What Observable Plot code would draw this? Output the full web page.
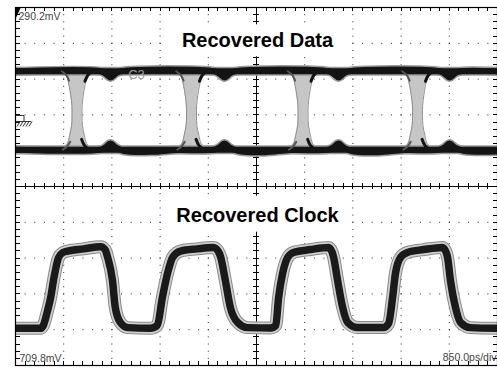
<!DOCTYPE html>
<html><head><meta charset="utf-8">
<script src="https://cdn.jsdelivr.net/npm/d3@7"></script>
<script src="https://cdn.jsdelivr.net/npm/@observablehq/plot@0.6"></script>
<style>
html,body{margin:0;padding:0;background:#fff;}
svg{display:block}
</style>
</head><body>
<div id="chart"></div>
<script>
// ---- scope settings ----
const timeDomain = [0, 8.5];          // ns (850 ps/div x 10 div)
const voltDomain = [-709.8, 290.2];   // mV (100 mV/div)
const topLabel = "290.2mV";
const bottomLabel = "709.8mV";
const timebaseLabel = "850.0ps/div";
const dataTitle = "Recovered Data";
const clockTitle = "Recovered Clock";
const channelLabel = "C3";
const groundLevel = -11;              // mV

// ---- Recovered Data eye ----
const eyeCrossings = [1.085, 3.104, 5.071, 7.09];   // ns
const eyeEnvV    = [114, 100, 72, 44, 16, -12, -39, -67, -90, -104];
const eyeEnvHalf = [0.28, 0.19, 0.14, 0.11, 0.09, 0.088, 0.095, 0.13, 0.17, 0.26];
const dataHigh = 112, dataLow = -107;               // mV
const dataHighT = [0, 1.50, 1.58, 1.675, 1.77, 1.86, 3.51, 3.59, 3.686, 3.78, 3.87, 5.52, 5.60, 5.696, 5.79, 5.88, 7.48, 7.56, 7.654, 7.75, 7.84, 8.5];
const dataHighV = [112, 112, 106, 95, 106, 112, 112, 106, 95, 106, 112, 112, 106, 95, 106, 112, 112, 106, 95, 106, 112, 112];
const dataLowT = [0, 1.50, 1.58, 1.675, 1.77, 1.90, 2.40, 2.85, 3.51, 3.59, 3.686, 3.78, 3.92, 4.40, 4.85, 5.52, 5.60, 5.696, 5.79, 5.93, 6.40, 6.85, 7.48, 7.56, 7.654, 7.75, 7.90, 8.5];
const dataLowV = [-107, -107, -101, -90, -101, -110, -113, -108, -107, -101, -90, -101, -110, -114, -108, -107, -101, -90, -101, -111, -114, -108, -107, -101, -90, -101, -110, -112];
// transition shoulders relative to each crossing
const shoulderTLdt = [-0.27, -0.19, -0.14], shoulderTLv = [112, 101, 86];
const shoulderTRdt = [0.27, 0.19, 0.14],    shoulderTRv = [112, 101, 84];
const shoulderBLdt = [-0.25, -0.17, -0.12], shoulderBLv = [-107, -97, -85];
const shoulderBRdt = [0.22, 0.13, 0.08],    shoulderBRv = [-107, -95, -78];

// ---- Recovered Clock ----
const clockT = [0, 0.44, 0.49, 0.56, 0.62, 0.67, 0.76, 0.84, 0.92, 1.20, 1.50, 1.58, 1.62, 1.71, 1.76, 1.85, 1.98,
  2.38, 2.50, 2.59, 2.68, 2.77, 2.91, 3.20, 3.49, 3.58, 3.62, 3.70, 3.79, 3.92, 4.09,
  4.50, 4.59, 4.64, 4.71, 4.80, 4.90, 5.20, 5.52, 5.58, 5.61, 5.68, 5.77, 5.86, 6.03,
  6.49, 6.58, 6.65, 6.70, 6.79, 6.91, 7.20, 7.53, 7.59, 7.62, 7.67, 7.76, 7.85, 8.02, 8.5];
const clockV = [-606, -606, -598, -560, -520, -472, -408, -394, -390, -384, -378, -386, -405, -472, -548, -590, -604,
  -606, -598, -520, -453, -408, -390, -384, -380, -392, -408, -472, -548, -590, -604,
  -605, -598, -520, -453, -408, -394, -386, -380, -392, -408, -472, -548, -590, -604,
  -604, -592, -520, -453, -408, -394, -386, -380, -392, -408, -472, -548, -590, -604, -606];

// ---- derived tables ----
const clockData = clockT.map((t, i) => ({t, v: clockV[i]}));
const highData = dataHighT.map((t, i) => ({t, v: dataHighV[i]}));
const lowData = dataLowT.map((t, i) => ({t, v: dataLowV[i]}));
const eyeTable = eyeCrossings.flatMap(c => eyeEnvV.map((v, i) => ({c, v, x1: c - eyeEnvHalf[i], x2: c + eyeEnvHalf[i]})));
function shoulders(dts, vs, key) {
  return eyeCrossings.flatMap(c => dts.map((d, i) => ({g: key + c, t: c + d, v: vs[i]})));
}
const shoulderBlack = [...shoulders(shoulderTRdt, shoulderTRv, "tr"), ...shoulders(shoulderBRdt, shoulderBRv, "br")];
const shoulderDark = [...shoulders(shoulderTLdt, shoulderTLv, "tl"), ...shoulders(shoulderBLdt, shoulderBLv, "bl")];

const majorT = d3.range(1, 10).map(i => timeDomain[0] + i * (timeDomain[1] - timeDomain[0]) / 10);
const majorV = d3.range(1, 10).map(i => voltDomain[0] + i * (voltDomain[1] - voltDomain[0]) / 10);
const centerT = (timeDomain[0] + timeDomain[1]) / 2;
const centerV = (voltDomain[0] + voltDomain[1]) / 2;
const minorT = d3.range(0, 51).map(i => timeDomain[0] + i * (timeDomain[1] - timeDomain[0]) / 50);
const minorV = d3.range(0, 51).map(i => voltDomain[0] + i * (voltDomain[1] - voltDomain[0]) / 50);

const font = "'Liberation Sans', Arial, Helvetica, sans-serif";

function scopeTicks(index, {x, y}) {
  const g = d3.create("svg:g").attr("stroke", "#000").attr("stroke-width", 1).attr("fill", "none");
  const xl = x(timeDomain[0]), xr = x(timeDomain[1]), yt = y(voltDomain[1]), yb = y(voltDomain[0]);
  const xc = x(centerT), yc = y(centerV);
  let d = "";
  for (const t of minorT) {
    const px = Math.round(x(t)) + 0.5;
    d += `M${px},${yt}v4M${px},${yb}v-4M${px},${yc - 3}v6`;
  }
  for (const v of minorV) {
    const py = Math.round(y(v)) + 0.5;
    d += `M${xl},${py}h5M${xr},${py}h-4M${xc - 3},${py}h6`;
  }
  g.append("path").attr("d", d);
  return g.node();
}

function titleBox(text, t, v, w, hTop, hBot) {
  return (index, {x, y}) => {
    const g = d3.create("svg:g");
    const cx = x(t), by = y(v);
    g.append("rect").attr("x", cx - w / 2).attr("y", by - hTop).attr("width", w).attr("height", hTop + hBot).attr("fill", "#fff");
    g.append("text").attr("x", cx + 1.5).attr("y", by).attr("text-anchor", "middle")
      .attr("font-family", font).attr("font-weight", "bold").attr("font-size", 20).attr("fill", "#000").text(text);
    return g.node();
  };
}

function groundMark(index, {x, y}) {
  const g = d3.create("svg:g").attr("stroke", "#333").attr("stroke-width", 1).attr("fill", "none");
  const px = x(timeDomain[0]), py = Math.round(y(groundLevel)) + 0.5;
  let d = `M${px},${py}H${px + 9}V${py + 6}M${px + 1},${py + 6}H${px + 16}`;
  for (let k = 0; k < 5; k++) d += `M${px + 2 + 3 * k},${py + 11}L${px + 5 + 3 * k},${py + 6}`;
  g.append("path").attr("d", d);
  return g.node();
}

function cornerMark(index, {x, y}) {
  const px = x(timeDomain[0]), py = y(voltDomain[1]);
  const g = d3.create("svg:g");
  g.append("path").attr("d", `M${px},${py}h6l-6,13z`).attr("fill", "#000");
  return g.node();
}

const crv = "monotone-x";
const chart = Plot.plot({
  width: 497, height: 369,
  marginLeft: 15, marginRight: 0, marginTop: 7, marginBottom: 4,
  x: {domain: timeDomain, axis: null},
  y: {domain: voltDomain, axis: null},
  style: {background: "#fff", fontFamily: font},
  marks: [
    // dotted graticule
    Plot.ruleX(majorT.filter((_, i) => i !== 4), {stroke: "#222", strokeWidth: 1, strokeDasharray: "1 6.16"}),
    Plot.ruleY(majorV.filter((_, i) => i !== 4), {stroke: "#222", strokeWidth: 1, strokeDasharray: "1 8.64"}),
    Plot.ruleX([centerT], {stroke: "#000", strokeWidth: 1}),
    Plot.ruleY([centerV], {stroke: "#000", strokeWidth: 1}),
    scopeTicks,
    titleBox(dataTitle, centerT, 177.6, 182, 23, 9),
    titleBox(clockTitle, centerT, -309.5, 182, 26, 10),
    // data eye transitions
    Plot.areaX(eyeTable, {y: "v", x1: "x1", x2: "x2", z: "c", fill: "#c6c6c6", curve: "catmull-rom"}),
    Plot.line(eyeTable, {x: "x1", y: "v", z: "c", stroke: "#8f8f8f", strokeWidth: 1, curve: "catmull-rom"}),
    Plot.line(eyeTable, {x: "x2", y: "v", z: "c", stroke: "#8f8f8f", strokeWidth: 1, curve: "catmull-rom"}),
    // data levels
    Plot.line(highData, {x: "t", y: "v", stroke: "#9a9a9a", strokeWidth: 9, curve: "catmull-rom", clip: true}),
    Plot.line(lowData, {x: "t", y: "v", stroke: "#9a9a9a", strokeWidth: 9, curve: "catmull-rom", clip: true}),
    Plot.ruleY([dataHigh, dataLow], {stroke: "#9a9a9a", strokeWidth: 9}),
    Plot.ruleY([dataHigh, dataLow], {stroke: "#141414", strokeWidth: 6}),
    Plot.line(highData, {x: "t", y: "v", stroke: "#141414", strokeWidth: 6, curve: "catmull-rom", clip: true}),
    Plot.line(lowData, {x: "t", y: "v", stroke: "#141414", strokeWidth: 6, curve: "catmull-rom", clip: true}),
    Plot.line(shoulderDark, {x: "t", y: "v", z: "g", stroke: "#555", strokeWidth: 2, curve: "catmull-rom"}),
    Plot.line(shoulderBlack, {x: "t", y: "v", z: "g", stroke: "#141414", strokeWidth: 3, curve: "catmull-rom"}),
    // clock
    Plot.line(clockData, {x: "t", y: "v", stroke: "#8a8a8a", strokeWidth: 13, curve: crv, clip: true}),
    Plot.line(clockData, {x: "t", y: "v", stroke: "#cfcfcf", strokeWidth: 11, curve: crv, clip: true}),
    Plot.line(clockData, {x: "t", y: "v", stroke: "#1a1a1a", strokeWidth: 7.5, curve: crv, clip: true}),
    // labels
    Plot.text([channelLabel], {x: [2.134], y: [103], fill: "#a0a0a0", fontSize: 13, textAnchor: "middle"}),
    Plot.text([topLabel], {frameAnchor: "top-left", dx: 3, dy: 5.5, textAnchor: "start", lineAnchor: "top", fontSize: 10.5, fill: "#444"}),
    Plot.text([bottomLabel], {frameAnchor: "bottom-left", dx: 4, dy: -4, textAnchor: "start", lineAnchor: "bottom", fontSize: 10.5, fill: "#444"}),
    Plot.text([timebaseLabel], {frameAnchor: "bottom-right", dx: -1, dy: -4.5, textAnchor: "end", lineAnchor: "bottom", fontSize: 10.5, fill: "#444"}),
    groundMark,
    cornerMark,
    Plot.frame({stroke: "#000", strokeWidth: 1.2})
  ]
});
document.getElementById("chart").append(chart);
</script>
</body></html>
